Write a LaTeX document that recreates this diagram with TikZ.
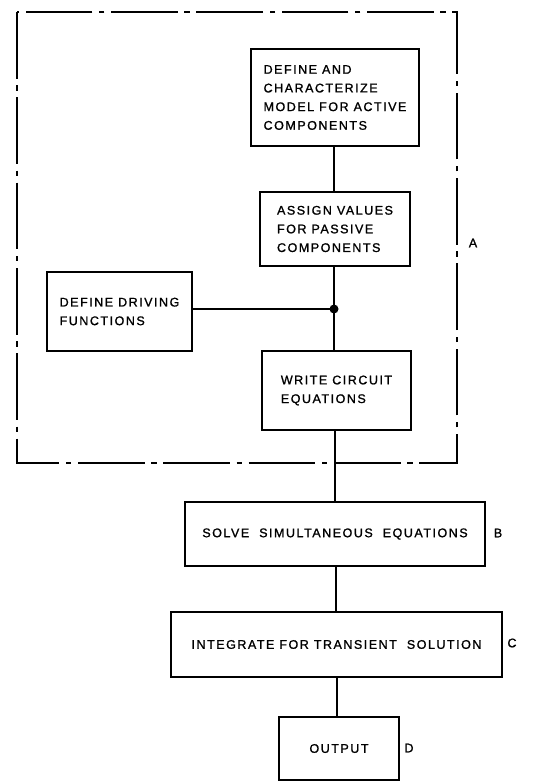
\documentclass[tikz,border=0pt]{standalone}
\usepackage{fontspec}
\setmainfont{Liberation Sans}[LetterSpace=12,FakeBold=1.2]
\usetikzlibrary{positioning}
\begin{document}
\begin{tikzpicture}[x=0.75pt,y=-0.75pt,
  every node/.style={font=\fontsize{9.4}{14}\selectfont, inner sep=0pt},
  blk/.style={draw, line width=0.9pt, align=left},
  lbl/.style={font=\fontsize{9.4}{14}\selectfont},
  conn/.style={line width=0.9pt},
  frame/.style={line width=0.9pt, dash pattern=on 50pt off 5pt on 4pt off 5pt}]
\useasboundingbox (0,0) rectangle (543,781);
% dashed frame A
\draw[frame] (17,12) rectangle (457,463);
% boxes
\node[blk, minimum width=168*0.75pt, minimum height=97*0.75pt] (model) at (335,97.5)
  {DEFINE AND\\CHARACTERIZE\\MODEL FOR ACTIVE\\COMPONENTS};
\node[blk, minimum width=150*0.75pt, minimum height=74*0.75pt] (assign) at (335,229)
  {ASSIGN VALUES\\FOR PASSIVE\\COMPONENTS};
\node[blk, minimum width=145*0.75pt, minimum height=79*0.75pt] (drive) at (119.5,311.5)
  {DEFINE DRIVING\\FUNCTIONS};
\node[blk, minimum width=149*0.75pt, minimum height=79*0.75pt] (write) at (336.5,390.5)
  {WRITE CIRCUIT\\EQUATIONS};
\node[blk, minimum width=300*0.75pt, minimum height=64*0.75pt] (solve) at (335,534)
  {SOLVE\ \ SIMULTANEOUS\ \ EQUATIONS};
\node[blk, minimum width=331*0.75pt, minimum height=65*0.75pt] (integ) at (336.5,644.5)
  {INTEGRATE FOR TRANSIENT\ \ SOLUTION};
\node[blk, minimum width=120*0.75pt, minimum height=63*0.75pt] (out) at (339,748.5)
  {OUTPUT};
% labels
\node[lbl] (la) at (473,243) {A};
\node[lbl] (lb) at (498,533) {B};
\node[lbl] (lc) at (512,643) {C};
\node[lbl] (ld) at (409,748) {D};
% connectors
\coordinate (dot) at (334,309);
\draw[conn] (model.south -| dot) -- (assign.north -| dot);
\draw[conn] (assign.south -| dot) -- (dot) -- (write.north -| dot);
\draw[conn] (drive.east |- dot) -- (dot);
\fill (dot) circle (4.5);
\draw[conn] (write.south -| 335,0) -- (solve.north -| 335,0);
\draw[conn] (solve.south -| 336,0) -- (integ.north -| 336,0);
\draw[conn] (integ.south -| 337,0) -- (out.north -| 337,0);
\end{tikzpicture}
\end{document}
